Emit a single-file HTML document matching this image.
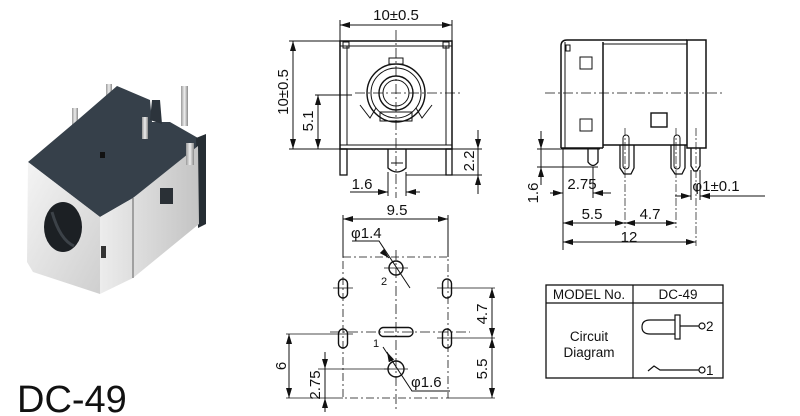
<!DOCTYPE html>
<html><head><meta charset="utf-8"><style>
html,body{margin:0;padding:0;background:#fff;}
svg{display:block;}
text{font-family:"Liberation Sans",sans-serif;fill:#111;}
</style></head><body>
<svg width="800" height="416" viewBox="0 0 800 416" xmlns="http://www.w3.org/2000/svg">
<defs>
<marker id="a" viewBox="0 0 10 6" refX="10" refY="3" markerWidth="10" markerHeight="6" orient="auto-start-reverse" markerUnits="userSpaceOnUse"><path d="M0,0 L10,3 L0,6 z" fill="#111"/></marker>
<linearGradient id="sil" x1="0" y1="0" x2="1" y2="1"><stop offset="0" stop-color="#f4f4f4"/><stop offset="1" stop-color="#cfcfcf"/></linearGradient>
<linearGradient id="sil2" x1="0" y1="0" x2="1" y2="0"><stop offset="0" stop-color="#ececec"/><stop offset="1" stop-color="#c4c4c4"/></linearGradient>
<linearGradient id="pin" x1="0" y1="0" x2="1" y2="0"><stop offset="0" stop-color="#9a9a9a"/><stop offset="0.5" stop-color="#eeeeee"/><stop offset="1" stop-color="#8a8a8a"/></linearGradient>
</defs>

<!-- Photo -->
<g>
<rect x="72" y="108" width="6" height="22" fill="url(#pin)"/>
<rect x="106" y="84" width="6" height="26" fill="url(#pin)"/>
<rect x="181" y="86" width="7" height="40" fill="url(#pin)"/>
<path d="M28,162 L80,118 L117,86 L150,100 L152,122 L170,122 L198,138 L200,150 L133,198 L100,217 Z" fill="#36404a"/>
<path d="M152,100 L150,120 L162,124 L160,100 Z" fill="#2c343c"/>
<rect x="142" y="117" width="6" height="22" fill="url(#pin)"/>
<path d="M196,138 L206,134 L206,224 L198,228 Z" fill="#262d33"/>
<path d="M28,162 L100,217 L100,294 L33,272 L27,262 Z" fill="url(#sil)"/>
<path d="M100,217 L133,198 L198,146 L199,224 L133,278 L100,294 Z" fill="url(#sil2)"/>
<path d="M133,198 L133,278" stroke="#777" stroke-width="1.2"/>
<ellipse cx="63" cy="227" rx="19" ry="25" fill="#1c2024"/>
<path d="M52,212 Q60,240 74,246" stroke="#3c4248" stroke-width="3" fill="none"/>
<rect x="160" y="188" width="13" height="16" fill="#2a3036"/>
<rect x="101" y="246" width="5" height="12" fill="#333"/>
<rect x="186" y="143" width="8" height="22" fill="url(#pin)"/>
<rect x="100" y="152" width="5" height="6" fill="#111"/>
</g>
<text x="17" y="412" font-size="38">DC-49</text>

<g fill="none" stroke="#111" stroke-width="1">
<!-- Front view -->
<rect x="340" y="41" width="112" height="108" stroke-width="1.5"/>
<line x1="347" y1="46" x2="347" y2="145"/><line x1="446" y1="46" x2="446" y2="145"/>
<line x1="340" y1="46" x2="452" y2="46"/><line x1="340" y1="145" x2="452" y2="145"/>
<rect x="343" y="42" width="6" height="6"/><rect x="443" y="42" width="6" height="6"/>
<rect x="340" y="149" width="7" height="26" stroke-width="1.3"/>
<rect x="446" y="149" width="6" height="26" stroke-width="1.3"/>
<path d="M388,149 L388,168 Q397,176 406,168 L406,149" stroke-width="1.3"/>
<path d="M391,163 L403,163"/>
<circle cx="396" cy="93" r="29" stroke-width="1.4"/>
<circle cx="396" cy="93" r="25"/>
<circle cx="396" cy="93" r="17" stroke-width="1.4"/>
<circle cx="396" cy="93" r="13"/>
<rect x="389" y="58" width="14" height="6"/>
<rect x="380" y="112" width="32" height="9"/>
<path d="M360,105 L370,118 L376,108"/><path d="M432,105 L422,118 L416,108"/>
<g stroke-dasharray="10,3,2,3" stroke-width="0.8">
<line x1="396" y1="30" x2="396" y2="198"/><line x1="355" y1="93" x2="462" y2="93"/>
</g>
<!-- front dims -->
<line x1="340" y1="20" x2="340" y2="41"/><line x1="452" y1="20" x2="452" y2="41"/>
<line x1="340" y1="25" x2="452" y2="25" marker-start="url(#a)" marker-end="url(#a)"/>
<line x1="289" y1="41" x2="340" y2="41"/><line x1="289" y1="149" x2="340" y2="149"/>
<line x1="293" y1="41" x2="293" y2="149" marker-start="url(#a)" marker-end="url(#a)"/>
<line x1="315" y1="95" x2="352" y2="95"/>
<line x1="318" y1="95" x2="318" y2="149" marker-start="url(#a)" marker-end="url(#a)"/>
<line x1="406" y1="149" x2="482" y2="149"/><line x1="406" y1="175" x2="482" y2="175"/>
<line x1="478" y1="130" x2="478" y2="149" marker-end="url(#a)"/>
<line x1="478" y1="194" x2="478" y2="175" marker-end="url(#a)"/>
<line x1="478" y1="149" x2="478" y2="175"/>
<line x1="388" y1="172" x2="388" y2="196"/><line x1="406" y1="172" x2="406" y2="196"/>
<line x1="350" y1="192" x2="388" y2="192" marker-end="url(#a)"/>
<line x1="420" y1="192" x2="406" y2="192" marker-end="url(#a)"/>

<!-- Side view -->
<path d="M561,148 L561,46 Q561,40 567,40 L687,40" stroke-width="1.5"/>
<line x1="565" y1="42" x2="565" y2="148"/>
<rect x="566" y="45" width="4" height="6"/>
<line x1="603" y1="42" x2="603" y2="148" stroke-width="1.5"/>
<line x1="603" y1="44" x2="687" y2="44"/>
<rect x="687" y="40" width="19" height="108" stroke-width="1.5"/>
<line x1="561" y1="148" x2="603" y2="148" stroke-width="1.5"/>
<line x1="603" y1="145" x2="687" y2="145" stroke-width="1.5"/>
<rect x="580" y="57" width="12" height="12"/><rect x="580" y="119" width="12" height="12"/>
<rect x="651" y="113" width="16" height="14" stroke-width="1.4"/>
<path d="M620,145 L620,168 L624,174 L631,174 L634,168 L634,145" stroke-width="1.3"/>
<rect x="623" y="135" width="6" height="34" rx="3"/>
<path d="M671,145 L671,168 L675,174 L682,174 L685,168 L685,145" stroke-width="1.3"/>
<rect x="674" y="135" width="6" height="34" rx="3"/>
<path d="M691,148 L691,166 L694,171 L697,171 L700,166 L700,148" stroke-width="1.3"/>
<path d="M588,148 L588,162 Q593,169 598,162 L598,148" stroke-width="1.3"/>
<line x1="545" y1="93" x2="725" y2="93" stroke-dasharray="10,3,2,3" stroke-width="0.8"/>
<line x1="625" y1="128" x2="625" y2="228" stroke-dasharray="8,2,2,2" stroke-width="0.7"/>
<line x1="676" y1="128" x2="676" y2="228" stroke-dasharray="8,2,2,2" stroke-width="0.7"/>
<line x1="696" y1="128" x2="696" y2="246" stroke-dasharray="8,2,2,2" stroke-width="0.7"/>
<!-- side dims -->
<line x1="537" y1="149" x2="600" y2="149"/><line x1="537" y1="167" x2="598" y2="167"/>
<line x1="541" y1="131" x2="541" y2="149" marker-end="url(#a)"/>
<line x1="541" y1="185" x2="541" y2="167" marker-end="url(#a)"/>
<line x1="541" y1="149" x2="541" y2="167"/>
<line x1="563" y1="148" x2="563" y2="250"/>
<line x1="593" y1="167" x2="593" y2="198"/>
<line x1="550" y1="193" x2="563" y2="193" marker-end="url(#a)"/>
<line x1="611" y1="193" x2="593" y2="193" marker-end="url(#a)"/>
<line x1="563" y1="223" x2="625" y2="223" marker-start="url(#a)" marker-end="url(#a)"/>
<line x1="625" y1="223" x2="676" y2="223" marker-start="url(#a)" marker-end="url(#a)"/>
<line x1="563" y1="242" x2="696" y2="242" marker-start="url(#a)" marker-end="url(#a)"/>
<line x1="691" y1="170" x2="691" y2="200"/><line x1="700" y1="170" x2="700" y2="200"/>
<line x1="675" y1="196" x2="691" y2="196" marker-end="url(#a)"/>
<line x1="765" y1="196" x2="700" y2="196" marker-end="url(#a)"/>

<!-- Bottom view -->
<rect x="343" y="257" width="105" height="141" stroke-dasharray="8,3,2,3" stroke-width="0.8"/>
<line x1="343" y1="215" x2="343" y2="257"/><line x1="448" y1="215" x2="448" y2="257"/>
<line x1="343" y1="219" x2="448" y2="219" marker-start="url(#a)" marker-end="url(#a)"/>
<line x1="396" y1="250" x2="396" y2="410" stroke-dasharray="10,3,2,3" stroke-width="0.8"/>
<line x1="330" y1="332" x2="470" y2="332" stroke-dasharray="10,3,2,3" stroke-width="0.8"/>
<circle cx="396" cy="268" r="7" stroke-width="1.4"/>
<circle cx="396" cy="369" r="8" stroke-width="1.4"/>
<line x1="384" y1="268" x2="408" y2="268" stroke-width="0.7"/>
<line x1="384" y1="369" x2="408" y2="369" stroke-width="0.7"/>
<rect x="338.5" y="279" width="9" height="19" rx="4.5" stroke-width="1.4"/>
<rect x="338.5" y="329" width="9" height="19" rx="4.5" stroke-width="1.4"/>
<rect x="442.5" y="279" width="9" height="19" rx="4.5" stroke-width="1.4"/>
<rect x="442.5" y="329" width="9" height="19" rx="4.5" stroke-width="1.4"/>
<rect x="379" y="327.5" width="34" height="9" rx="4.5" stroke-width="1.4"/>
<line x1="333" y1="288" x2="353" y2="288" stroke-width="0.7"/><line x1="437" y1="288" x2="495" y2="288" stroke-width="0.8"/>
<line x1="286" y1="334" x2="353" y2="334" stroke-width="0.8"/><line x1="437" y1="338" x2="495" y2="338" stroke-width="0.8"/>
<line x1="286" y1="398" x2="343" y2="398" stroke-width="0.8"/><line x1="448" y1="398" x2="495" y2="398" stroke-width="0.8"/>
<line x1="318" y1="369" x2="390" y2="369" stroke-width="0.8"/>
<line x1="492" y1="288" x2="492" y2="338" marker-start="url(#a)" marker-end="url(#a)"/>
<line x1="492" y1="338" x2="492" y2="398" marker-start="url(#a)" marker-end="url(#a)"/>
<line x1="289" y1="334" x2="289" y2="398" marker-start="url(#a)" marker-end="url(#a)"/>
<line x1="325" y1="352" x2="325" y2="369" marker-end="url(#a)"/>
<line x1="325" y1="412" x2="325" y2="398" marker-end="url(#a)"/>
<line x1="325" y1="369" x2="325" y2="398"/>
<path d="M352,241 L379,241 L410,288"/>
<line x1="388" y1="257" x2="389" y2="258" marker-end="url(#a)"/>
<path d="M383,347 L412,391 L450,391"/>
<line x1="387" y1="352" x2="388" y2="354" marker-start="url(#a)"/>

<!-- Table -->
<rect x="546" y="285" width="177" height="93" stroke-width="1.3"/>
<line x1="546" y1="303" x2="723" y2="303" stroke-width="1.2"/>
<line x1="633" y1="285" x2="633" y2="378" stroke-width="1.2"/>
<path d="M675,320 L650,320 Q642,320 642,327 Q642,334 650,334 L675,334" stroke-width="1.2"/>
<rect x="675" y="315" width="5" height="24" stroke-width="1.2"/>
<line x1="680" y1="326" x2="699" y2="326" stroke-width="1.2"/>
<circle cx="702" cy="326" r="3" stroke-width="1.2"/>
<path d="M648,371 L654,366 L660,370 L699,370" stroke-width="1.2"/>
<circle cx="702" cy="370" r="3" stroke-width="1.2"/>
</g>

<g font-size="15">
<text x="396" y="20" text-anchor="middle">10±0.5</text>
<text transform="translate(288,92) rotate(-90)" text-anchor="middle">10±0.5</text>
<text transform="translate(313,121) rotate(-90)" text-anchor="middle">5.1</text>
<text transform="translate(474,161) rotate(-90)" text-anchor="middle">2.2</text>
<text x="362" y="189" text-anchor="middle">1.6</text>
<text transform="translate(538,193) rotate(-90)" text-anchor="middle">1.6</text>
<text x="582" y="189" text-anchor="middle">2.75</text>
<text x="592" y="219" text-anchor="middle">5.5</text>
<text x="650" y="219" text-anchor="middle">4.7</text>
<text x="629" y="242" text-anchor="middle">12</text>
<text x="716" y="191" text-anchor="middle">φ1±0.1</text>
<text x="397" y="215" text-anchor="middle">9.5</text>
<text x="351" y="238">φ1.4</text>
<text x="411" y="387">φ1.6</text>
<text transform="translate(487,314) rotate(-90)" text-anchor="middle">4.7</text>
<text transform="translate(487,369) rotate(-90)" text-anchor="middle">5.5</text>
<text transform="translate(286,366) rotate(-90)" text-anchor="middle">6</text>
<text transform="translate(320,385) rotate(-90)" text-anchor="middle">2.75</text>
</g>
<text x="381" y="285" font-size="11">2</text>
<text x="373" y="347" font-size="11">1</text>
<g font-size="13.5">
<text x="589" y="299" text-anchor="middle">MODEL No.</text>
<text x="678" y="299" text-anchor="middle">DC-49</text>
<text x="589" y="341" text-anchor="middle">Circuit</text>
<text x="589" y="357" text-anchor="middle">Diagram</text>
<text x="706" y="331">2</text>
<text x="706" y="375">1</text>
</g>
</svg>
</body></html>
